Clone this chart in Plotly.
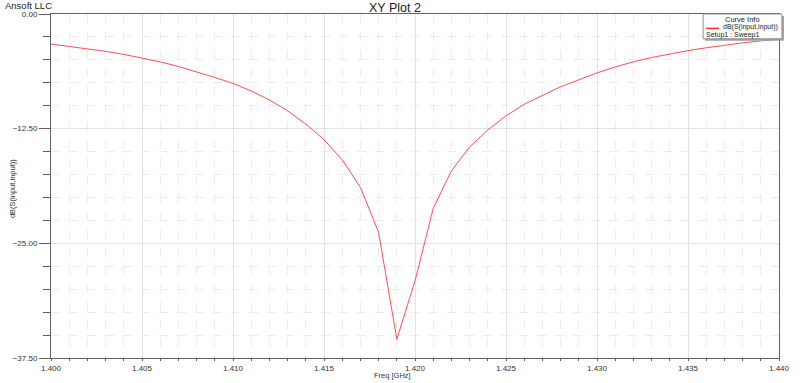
import plotly.graph_objects as go

freq_ghz = [1.400, 1.401, 1.402, 1.403, 1.404, 1.405, 1.406, 1.407, 1.408, 1.409,
            1.410, 1.411, 1.412, 1.413, 1.414, 1.415, 1.416, 1.417, 1.418, 1.419,
            1.420, 1.421, 1.422, 1.423, 1.424, 1.425, 1.426, 1.427, 1.428, 1.429,
            1.430, 1.431, 1.432, 1.433, 1.434, 1.435, 1.436, 1.437, 1.438, 1.439, 1.440]
s11_db = [-3.28, -3.52, -3.78, -4.07, -4.40, -4.78, -5.22, -5.72, -6.29, -6.92,
          -7.57, -8.40, -9.37, -10.56, -12.00, -13.70, -15.90, -18.90, -23.80, -35.46,
          -29.10, -21.20, -17.10, -14.50, -12.65, -11.10, -9.84, -8.86, -7.93, -7.17,
          -6.42, -5.77, -5.21, -4.74, -4.34, -3.99, -3.68, -3.40, -3.15, -2.93, -2.74]

x_ticks = [1.400, 1.405, 1.410, 1.415, 1.420, 1.425, 1.430, 1.435, 1.440]
y_ticks = [0.0, -12.5, -25.0, -37.5]

FONT = "Liberation Sans, Arial, sans-serif"
L, R, T, B = 51, 790, 14, 361
W, H = 800, 383


def px(xp):
    return (xp - L) / (R - L)


def py(yp):
    return (B - yp) / (B - T)


fig = go.Figure()
fig.add_trace(go.Scatter(x=freq_ghz, y=s11_db, mode="lines",
                         line=dict(color="#ff5050", width=1), showlegend=False,
                         hoverinfo="x+y"))

axis_common = dict(showline=True, linecolor="#606060", linewidth=1, mirror=True,
                   showgrid=True, gridcolor="#e2e2e2", gridwidth=1,
                   zeroline=False, ticks="outside", tickcolor="#606060",
                   tickfont=dict(family=FONT, size=8, color="#333333"))

fig.update_xaxes(range=[1.400, 1.440], tickvals=x_ticks, tickformat=".3f",
                 ticklen=2,
                 minor=dict(dtick=0.001, tick0=1.400, ticks="outside", ticklen=2,
                            tickcolor="#606060", showgrid=True,
                            gridcolor="#ececec", griddash="dash"),
                 **axis_common)
fig.update_yaxes(range=[-37.5, 0], tickvals=y_ticks, tickformat=".2f",
                 ticklen=11,
                 minor=dict(dtick=2.5, tick0=0, ticks="outside", ticklen=7,
                            tickcolor="#606060", showgrid=True,
                            gridcolor="#ececec", griddash="dash"),
                 **axis_common)

shapes = [
    # legend shadow
    dict(type="rect", xref="paper", yref="paper",
         x0=px(715), x1=px(795), y0=py(41), y1=py(16),
         fillcolor="#a0a0a0", line=dict(width=0), layer="above"),
    # legend box
    dict(type="rect", xref="paper", yref="paper",
         x0=px(713), x1=px(793), y0=py(39), y1=py(14),
         fillcolor="white", line=dict(color="#909090", width=1), layer="above"),
    # legend line sample
    dict(type="line", xref="paper", yref="paper",
         x0=px(716), x1=px(729), y0=py(28.5), y1=py(28.5),
         line=dict(color="#ff3030", width=1.5), layer="above"),
]

annotations = [
    dict(text="XY Plot 2", xref="paper", yref="paper", x=px(400), y=py(8),
         xanchor="center", yanchor="middle", showarrow=False,
         font=dict(family=FONT, size=12.5, color="#222222")),
    dict(text="Ansoft LLC", xref="paper", yref="paper", x=px(3), y=py(5),
         xanchor="left", yanchor="middle", showarrow=False,
         font=dict(family=FONT, size=9.5, color="#222222")),
    dict(text="dB(S(input,input))", xref="paper", yref="paper", x=px(12), y=py(190),
         xanchor="center", yanchor="middle", textangle=-90, showarrow=False,
         font=dict(family=FONT, size=7.5, color="#333333")),
    dict(text="Freq [GHz]", xref="paper", yref="paper", x=px(398), y=py(378.5),
         xanchor="center", yanchor="middle", showarrow=False,
         font=dict(family=FONT, size=7.5, color="#333333")),
    dict(text="Curve Info", xref="paper", yref="paper", x=px(753), y=py(19.5),
         xanchor="center", yanchor="middle", showarrow=False,
         font=dict(family=FONT, size=7.5, color="#222222")),
    dict(text="dB(S(input,input))", xref="paper", yref="paper", x=px(790), y=py(27.5),
         xanchor="right", yanchor="middle", showarrow=False,
         font=dict(family=FONT, size=7, color="#222222")),
    dict(text="Setup1 : Sweep1", xref="paper", yref="paper", x=px(715), y=py(35),
         xanchor="left", yanchor="middle", showarrow=False,
         font=dict(family=FONT, size=7, color="#222222")),
]
for a in annotations:
    a["borderpad"] = 0

fig.update_layout(width=W, height=H, margin=dict(l=L, r=W - R, t=T, b=H - B),
                  paper_bgcolor="white", plot_bgcolor="white",
                  shapes=shapes, annotations=annotations, showlegend=False)

fig.write_html("out.html")
